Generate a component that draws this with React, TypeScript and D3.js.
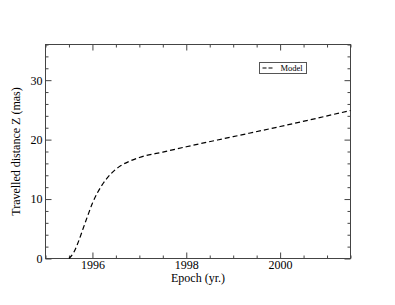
import React, { useRef, useEffect } from 'react';
import * as d3 from 'd3';

// model curve
const epochs = [1995.5, 1995.6, 1995.7, 1995.8, 1995.9, 1996.0, 1996.2, 1996.4, 1996.6, 1996.8, 1997.0, 1997.5, 1998.0, 1999.0, 2000.0, 2001.5];
const distZ = [0, 1.0, 2.8, 5.0, 7.2, 9.3, 12.3, 14.3, 15.6, 16.4, 17.0, 17.9, 18.8, 20.5, 22.2, 24.9];

const xMajor = [1996, 1998, 2000];
const yMajor = [0, 10, 20, 30];
const seriesName = 'Model';

export default function App() {
  const svgRef = useRef<SVGSVGElement>(null);

  useEffect(() => {
    const w = 395;
    const h = 305;
    const m = { left: 45.5, right: 350.5, top: 44.5, bottom: 258.5 };
    const font = 'Liberation Serif';

    const svg = d3.select(svgRef.current)
      .attr('width', w)
      .attr('height', h)
      .attr('font-family', font)
      .style('position', 'absolute')
      .style('left', 0)
      .style('top', 0)
      .style('background', '#fff');
    svg.selectAll('*').remove();

    const x = d3.scaleLinear().domain([1995, 2001.5]).range([m.left, m.right]);
    const y = d3.scaleLinear().domain([0, 36]).range([m.bottom, m.top]);

    const xMinor = d3.range(1995, 2001.51, 0.5).filter(v => !xMajor.includes(v));
    const yMinor = d3.range(0, 36.1, 2).filter(v => !yMajor.includes(v));

    const axisCol = '#444';

    // major + minor ticks on all four sides, pointing inward
    const addAxis = (axis: any, tr: string, labels: boolean) => {
      const g = svg.append('g').attr('transform', tr).call(axis);
      g.attr('font-family', font).attr('font-size', 12);
      g.select('.domain').remove();
      g.selectAll('line').attr('stroke', axisCol);
      if (labels) {
        g.selectAll('text').attr('fill', '#000');
      } else {
        g.selectAll('text').remove();
      }
      return g;
    };

    addAxis(d3.axisBottom(x).tickValues(xMajor).tickSize(-6).tickPadding(2).tickFormat(d3.format('d')), `translate(0,${m.bottom})`, true);
    addAxis(d3.axisBottom(x).tickValues(xMinor).tickSize(-3), `translate(0,${m.bottom})`, false);
    addAxis(d3.axisTop(x).tickValues(xMajor).tickSize(-6), `translate(0,${m.top})`, false);
    addAxis(d3.axisTop(x).tickValues(xMinor).tickSize(-3), `translate(0,${m.top})`, false);

    addAxis(d3.axisLeft(y).tickValues(yMajor).tickSize(-6).tickPadding(3), `translate(${m.left},0)`, true);
    addAxis(d3.axisLeft(y).tickValues(yMinor).tickSize(-3), `translate(${m.left},0)`, false);
    addAxis(d3.axisRight(y).tickValues(yMajor).tickSize(-6), `translate(${m.right},0)`, false);
    addAxis(d3.axisRight(y).tickValues(yMinor).tickSize(-3), `translate(${m.right},0)`, false);

    // frame
    svg.append('rect')
      .attr('x', m.left).attr('y', m.top)
      .attr('width', m.right - m.left).attr('height', m.bottom - m.top)
      .attr('fill', 'none').attr('stroke', axisCol).attr('stroke-width', 1);

    // curve
    const pts: [number, number][] = epochs.map((e, i) => [e, distZ[i]]);
    const line = d3.line<[number, number]>()
      .x(d => x(d[0]))
      .y(d => y(d[1]))
      .curve(d3.curveMonotoneX);

    svg.append('path')
      .datum(pts)
      .attr('d', line)
      .attr('fill', 'none')
      .attr('stroke', '#000')
      .attr('stroke-width', 1.2)
      .attr('stroke-dasharray', '5,3');

    // axis titles
    svg.append('text')
      .attr('x', (m.left + m.right) / 2).attr('y', 282)
      .attr('text-anchor', 'middle')
      .attr('font-size', 12)
      .text('Epoch (yr.)');

    svg.append('text')
      .attr('transform', `translate(20,${(m.top + m.bottom) / 2}) rotate(-90)`)
      .attr('text-anchor', 'middle')
      .attr('font-size', 12)
      .text('Travelled distance Z (mas)');

    // legend
    const lg = svg.append('g').attr('transform', 'translate(259.5,62.5)');
    lg.append('rect').attr('width', 47).attr('height', 11)
      .attr('fill', '#fff').attr('stroke', '#555').attr('stroke-width', 1);
    lg.append('line').attr('x1', 3).attr('x2', 15).attr('y1', 5.5).attr('y2', 5.5)
      .attr('stroke', '#000').attr('stroke-width', 1.2).attr('stroke-dasharray', '4,2');
    lg.append('text').attr('x', 21).attr('y', 8.5)
      .attr('font-size', 8.5)
      .text(seriesName);
  }, []);

  return (
    <div>
      <svg ref={svgRef}></svg>
    </div>
  );
}
